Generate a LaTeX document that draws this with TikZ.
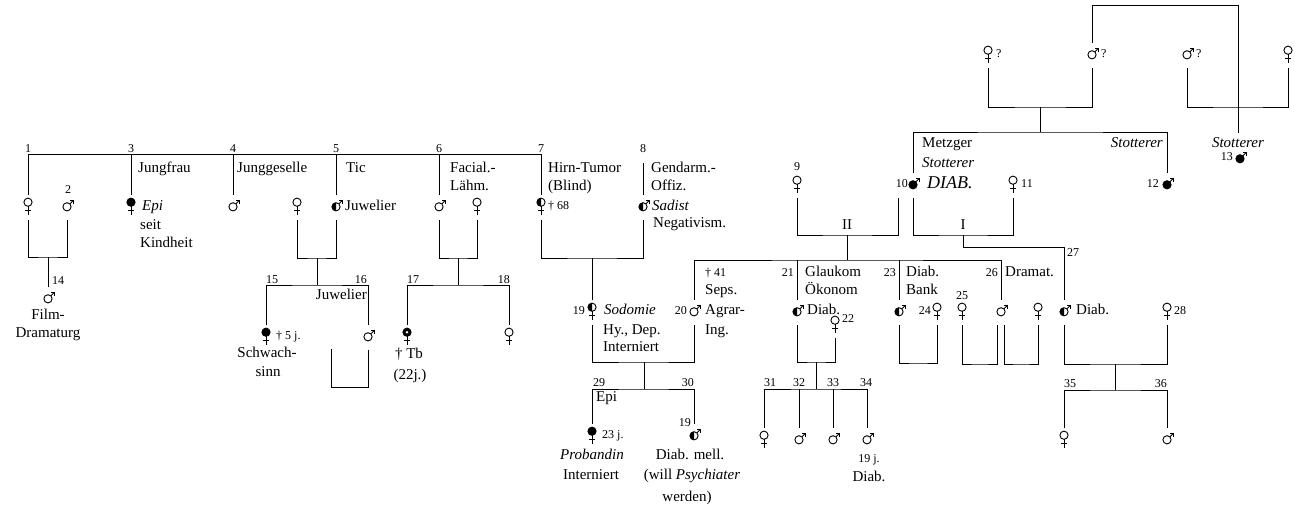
\documentclass[tikz,border=0pt]{standalone}
\usepackage{fontspec}
\setmainfont{Liberation Serif}
\newcommand\femdraw[1]{%
  \ifcase#1\relax
    \draw[sym] (0,-2.8) circle (4.1);
  \or
    \filldraw[sym] (0,-2.8) circle (4.1);
  \or
    \fill (0,1.3) arc (90:270:4.1) -- cycle; \draw[sym] (0,-2.8) circle (4.1);
  \or
    \filldraw[sym] (0,-2.8) circle (4.1); \fill[white] (0,-2.8) circle (1.3);
  \fi
  \draw[sym] (0,1.3) -- (0,9.5) (-3.2,5.6) -- (3.2,5.6);
}
\newcommand\maldraw[1]{%
  \ifcase#1\relax
    \draw[sym] (0,1.8) circle (4.1);
  \or
    \filldraw[sym] (0,1.8) circle (4.1);
  \or
    \fill (0,5.9) arc (90:270:4.1) -- cycle; \draw[sym] (0,1.8) circle (4.1);
  \fi
  \draw[sym] (2.9,-1.1) -- (6.6,-4.8);
  \draw[sym,line join=miter] (3.2,-4.8) -- (6.6,-4.8) -- (6.6,-1.4);
}
\tikzset{
  sym/.style={line width=0.9pt},
  anch/.style={inner sep=0pt,outer sep=0pt,minimum width=10pt,minimum height=25pt},
  pics/fem/.style={code={\node[anch] (-n) at (0,2.5) {}; \femdraw{#1}}},
  pics/mal/.style={code={\node[anch] (-n) at (0,2.5) {}; \maldraw{#1}}},
  txt/.style={font=\fontsize{15}{18}\selectfont,inner sep=0pt,anchor=base west},
  num/.style={font=\fontsize{12}{14}\selectfont,inner sep=0pt,anchor=base west},
  con/.style={line width=0.9pt},
}
\begin{document}
\begin{tikzpicture}[x=1pt,y=-1pt]
\useasboundingbox (0,0) rectangle (1295,509);
% ---------- persons ----------
\pic (P1) at (28,205) {fem=0};
\pic (P2) at (67,205) {mal=0};
\pic (P3) at (131,205) {fem=1};
\pic (P4) at (233,205) {mal=0};
\pic (Pw5) at (297,205) {fem=0};
\pic (P5) at (336,205) {mal=2};
\pic (P6) at (439,205) {mal=0};
\pic (Pw6) at (477,205) {fem=0};
\pic (P7) at (541,205) {fem=2};
\pic (P8) at (643,205) {mal=2};
\pic (P14) at (48,297) {mal=0};
\pic (P15) at (266,335) {fem=1};
\pic (P16) at (368,335) {mal=0};
\pic (P17) at (407,335) {fem=3};
\pic (P18) at (509,335) {fem=0};
\pic (P19) at (592,310) {fem=2};
\pic (P20) at (694,310) {mal=0};
\pic (P21) at (797,310) {mal=2};
\pic (P22) at (835,323) {fem=0};
\pic (P23) at (899,310) {mal=2};
\pic (P24) at (937,310) {fem=0};
\pic (P25) at (962,310) {fem=0};
\pic (P26) at (1001,310) {mal=0};
\pic (Pw26) at (1038,310) {fem=0};
\pic (P27) at (1064,310) {mal=2};
\pic (P28) at (1167,310) {fem=0};
\pic (P29) at (592,434) {fem=1};
\pic (P30) at (694,434) {mal=2};
\pic (P31) at (764,438) {fem=0};
\pic (P32) at (799,438) {mal=0};
\pic (P33) at (833,438) {mal=0};
\pic (P34) at (867,438) {mal=0};
\pic (P35) at (1064,438) {fem=0};
\pic (P36) at (1167,438) {mal=0};
\pic (P9) at (797,183) {fem=0};
\pic (P10) at (913,183) {mal=1};
\pic (P11) at (1013,183) {fem=0};
\pic (P12) at (1167,183) {mal=1};
\pic (P13) at (1240,157) {mal=1};
\pic (Q1) at (988,53) {fem=0};
\pic (Q2) at (1092,53) {mal=0};
\pic (Q3) at (1187,53) {mal=0};
\pic (Q4) at (1288,53) {fem=0};
% ---------- coordinates ----------
\coordinate (T) at (28,154);
\coordinate (J12) at (48,257);
\coordinate (J5) at (317,258);
\coordinate (S5) at (317,285);
\coordinate (M16) at (331,349);
\coordinate (M16b) at (331,387);
\coordinate (J6) at (458,258);
\coordinate (S6) at (458,285);
\coordinate (J78) at (592,258);
\coordinate (J1920) at (644,362);
\coordinate (S1920) at (644,389);
\coordinate (Jq12) at (1040,107);
\coordinate (Sq) at (1040,132);
\coordinate (Jq34) at (1238,107);
\coordinate (Br) at (1238,5);
\coordinate (J9) at (847,235);
\coordinate (SB) at (847,260);
\coordinate (J10) at (963,235);
\coordinate (K) at (963,247);
\coordinate (J2122) at (816,362);
\coordinate (S2122) at (816,389);
\coordinate (J2324) at (918,363);
\coordinate (J25) at (980,364);
\coordinate (J26) at (1021,364);
\coordinate (J2728) at (1115,364);
\coordinate (S2728) at (1115,390);
% ---------- texts ----------
\node[num,anchor=base] (n1) at (28,152.5) {1};
\node[num,anchor=base] (n3) at (131,152.5) {3};
\node[num,anchor=base] (n4) at (233,152.5) {4};
\node[num,anchor=base] (n5) at (336,152.5) {5};
\node[num,anchor=base] (n6) at (439,152.5) {6};
\node[num,anchor=base] (n7) at (541,152.5) {7};
\node[num,anchor=base] (n8) at (643,152.5) {8};
\node[num,anchor=base] (n2) at (68,193) {2};
\node[num] (n14) at (52,284) {14};
\node[num] (n15) at (266,283) {15};
\node[num,anchor=base east] (n16) at (367,283) {16};
\node[num] (n17) at (407,283) {17};
\node[num,anchor=base east] (n18) at (510,283) {18};
\node[num,anchor=base east] (n19) at (585,314) {19};
\node[num,anchor=base east] (n20) at (687,314) {20};
\node[num,anchor=base east] (n21) at (794,276) {21};
\node[num] (n22) at (842,322) {22};
\node[num,anchor=base east] (n23) at (896,276) {23};
\node[num,anchor=base east] (n24) at (931,314) {24};
\node[num,anchor=base] (n25) at (962,299) {25};
\node[num,anchor=base east] (n26) at (998,276) {26};
\node[num] (n27) at (1067,256) {27};
\node[num] (n28) at (1174,314) {28};
\node[num] (n29) at (593,386) {29};
\node[num,anchor=base east] (n30) at (694,386) {30};
\node[num] (n31) at (764,386) {31};
\node[num,anchor=base] (n32) at (799,386) {32};
\node[num,anchor=base] (n33) at (833,386) {33};
\node[num,anchor=base] (n34) at (866,386) {34};
\node[num] (n35) at (1064,387) {35};
\node[num,anchor=base east] (n36) at (1167,387) {36};
\node[num,anchor=base] (n9) at (797,170) {9};
\node[num,anchor=base east] (n10) at (908,187) {10};
\node[num] (n11) at (1021,187) {11};
\node[num,anchor=base east] (n12) at (1159,187) {12};
\node[num,anchor=base east] (n13) at (1233,160) {13};
\node[num] (q1) at (996,57) {?};
\node[num] (q2) at (1101,57) {?};
\node[num] (q3) at (1196,57) {?};
\node[num] (d7) at (548,209) {† 68};
\node[num] (d15) at (276,339) {† 5 j.};
\node[num] (d20) at (705,276) {† 41};
\node[num] (a29) at (602,438) {23 j.};
\node[num,anchor=base east] (a30) at (691,426) {19};
\node[num,anchor=base] (a34) at (869,462) {19 j.};
% generation of 1--8
\node[txt] (t3a) at (138,172) {Jungfrau};
\node[txt] (t3b) at (142,210) {\itshape Epi};
\node[txt] (t3c) at (140,229.5) {seit};
\node[txt] (t3d) at (140,247.5) {Kindheit};
\node[txt] (t4) at (237,172) {Junggeselle};
\node[txt] (t5a) at (346,172) {Tic};
\node[txt] (t5b) at (345,210) {Juwelier};
\node[txt] (t6a) at (450,172) {Facial.-};
\node[txt] (t6b) at (450,190) {Lähm.};
\node[txt] (t7a) at (548,172) {Hirn-Tumor};
\node[txt] (t7b) at (548,190) {(Blind)};
\node[txt] (t8a) at (651,172) {Gendarm.-};
\node[txt] (t8b) at (651,190) {Offiz.};
\node[txt] (t8c) at (652,210) {\itshape Sadist};
\node[txt] (t8d) at (653,227) {Negativism.};
\node[txt,anchor=base] (t14a) at (48,319.5) {Film-};
\node[txt,anchor=base] (t14b) at (48,337.5) {Dramaturg};
\node[txt,anchor=base east] (t16) at (367,299.5) {Juwelier};
\node[txt,anchor=base] (t15a) at (267,357.5) {Schwach-};
\node[txt,anchor=base] (t15b) at (268,376.5) {sinn};
\node[txt,anchor=base] (t17a) at (409,358.5) {† Tb};
\node[txt,anchor=base] (t17b) at (410,379.5) {(22j.)};
\node[txt] (t19a) at (604,314.5) {\itshape Sodomie};
\node[txt] (t19b) at (603,334.5) {Hy., Dep.};
\node[txt] (t19c) at (603,351.5) {Interniert};
\node[txt] (t20a) at (705,294.5) {Seps.};
\node[txt] (t20b) at (705,314.5) {Agrar-};
\node[txt] (t20c) at (705,334.5) {Ing.};
\node[txt] (t21a) at (805,276.5) {Glaukom};
\node[txt] (t21b) at (805,294.5) {Ökonom};
\node[txt] (t21c) at (807,314.5) {Diab.};
\node[txt] (t23a) at (906,276.5) {Diab.};
\node[txt] (t23b) at (906,294.5) {Bank};
\node[txt] (t26) at (1005,276.5) {Dramat.};
\node[txt] (t27) at (1076,314.5) {Diab.};
\node[txt] (t29a) at (596,401.5) {Epi};
\node[txt,anchor=base] (t29b) at (592,459.5) {\itshape Probandin};
\node[txt,anchor=base] (t29c) at (591,479.5) {Interniert};
\node[txt,anchor=base] (t30a) at (690,459.5) {Diab. mell.};
\node[txt,anchor=base] (t30b) at (692,479.5) {(will \textit{Psychiater}};
\node[txt,anchor=base] (t30c) at (687,501.5) {werden)};
\node[txt,anchor=base] (t34) at (869,481.5) {Diab.};
\node[txt,anchor=base] (tII) at (847,229.5) {II};
\node[txt,anchor=base] (tI) at (963,229.5) {I};
\node[txt] (t10a) at (922,147.5) {Metzger};
\node[txt] (t10b) at (922,167.5) {\itshape Stotterer};
\node[txt,font=\fontsize{18}{20}\selectfont\itshape] (t10c) at (927,188) {DIAB.};
\node[txt,anchor=base east] (t12) at (1163,147.5) {\itshape Stotterer};
\node[txt,anchor=base] (St13) at (1238,147.5) {\itshape Stotterer};
% ---------- connectors ----------
\begin{scope}[con]
% sibship of 1,3,4,5,6,7
\draw (P1-n.north) -- (T) -- (P7-n.north |- T) -- (P7-n.north);
\foreach \p in {P3,P4,P5,P6} \draw (\p-n.north |- T) -- (\p-n.north);
\draw ([yshift=-10pt]n8.south) -- (P8-n.north);
% 1 x 2
\draw (P1-n.south) |- (J12) -| (P2-n.south);
\draw (J12) -- (P14-n.north);
% 5 x wife
\draw (Pw5-n.south) |- (J5) -| (P5-n.south);
\draw (J5) -- (S5);
\draw (P15-n.north) |- (S5) -| (P16-n.north);
\draw (P16-n.south) |- (M16b) -- (M16);
% 6 x wife
\draw (P6-n.south) |- (J6) -| (Pw6-n.south);
\draw (J6) -- (S6);
\draw (P17-n.north) |- (S6) -| (P18-n.north);
% 7 x 8
\draw (P7-n.south) |- (J78) -| (P8-n.south);
\draw (J78) -- (P19-n.north);
% 19 x 20
\draw (P19-n.south) |- (J1920) -| (P20-n.south);
\draw (J1920) -- (S1920);
\draw (P29-n.north) |- (S1920) -| (P30-n.north);
% parents of 10 and 12
\draw (Q1-n.south) |- (Jq12) -| (Q2-n.south);
\draw (Jq12) -- (Sq);
\draw (P10-n.north) |- (Sq) -| (P12-n.north);
\draw (Q3-n.south) |- (Jq34) -| (Q4-n.south);
\draw (Q2-n.north) |- (Br) -- ([yshift=4pt]St13.north);
% 9 x 10 (II)
\draw (P9-n.south) |- (J9) -| ([xshift=-15pt]P10-n.south);
\draw (J9) -- (SB);
\draw (P20-n.north) |- (SB) -| (P26-n.north);
\foreach \p in {P21,P23} \draw (\p-n.north |- SB) -- (\p-n.north);
% 10 x 11 (I)
\draw (P10-n.south) |- (J10) -| (P11-n.south);
\draw (J10) -- (K) -| (P27-n.north);
% 21 x 22
\draw (P21-n.south) |- (J2122) -| (P22-n.south);
\draw (J2122) -- (S2122);
\draw (P31-n.north) |- (S2122) -| (P34-n.north);
\foreach \p in {P32,P33} \draw (\p-n.north |- S2122) -- (\p-n.north);
% 23 x 24
\draw (P23-n.south) |- (J2324) -| (P24-n.south);
% 25 x 26, 26 x wife
\draw (P25-n.south) |- (J25) -| ([xshift=-4pt]P26-n.south);
\draw ([xshift=3pt]P26-n.south) |- (J26) -| (Pw26-n.south);
% 27 x 28
\draw (P27-n.south) |- (J2728) -| (P28-n.south);
\draw (J2728) -- (S2728);
\draw (P35-n.north) |- (S2728) -| (P36-n.north);
\end{scope}
\end{tikzpicture}
\end{document}
